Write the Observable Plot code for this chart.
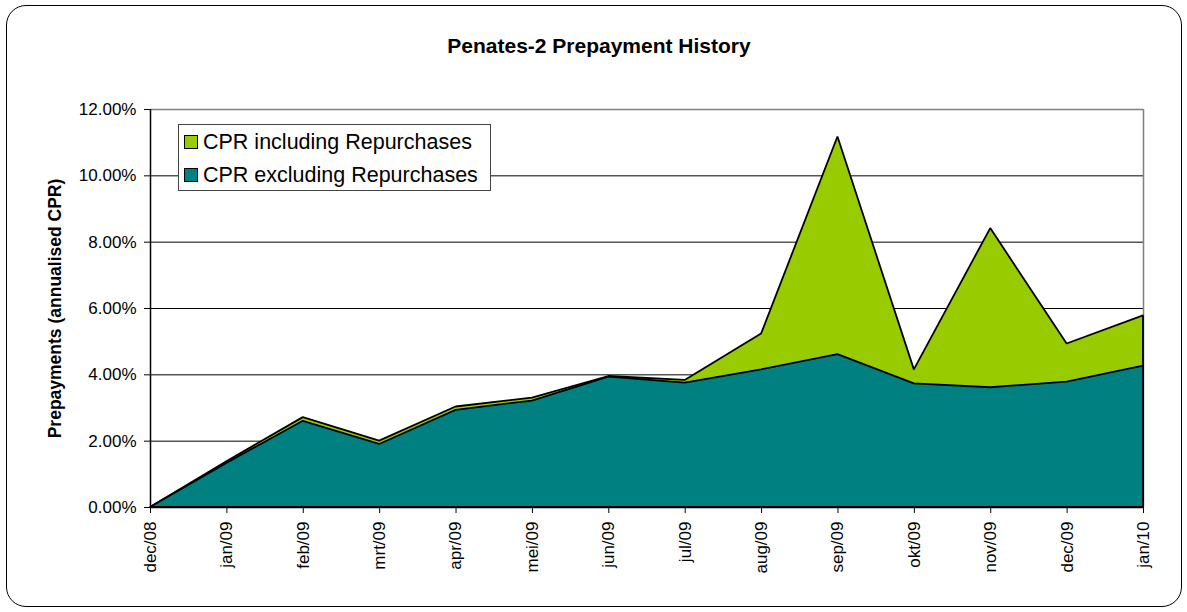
<!DOCTYPE html>
<html>
<head>
<meta charset="utf-8">
<script src="https://cdn.jsdelivr.net/npm/d3@7"></script>
<script src="https://cdn.jsdelivr.net/npm/@observablehq/plot@0.6"></script>
<style>
  html, body { margin: 0; padding: 0; background: #fff; }
  body { width: 1187px; height: 612px; overflow: hidden; font-family: "Liberation Sans", Arial, sans-serif; }
  #wrap { position: relative; width: 1187px; height: 612px; }
  #border { position: absolute; left: 6px; top: 5px; width: 1174px; height: 600px; border: 1.5px solid #000; border-radius: 20px; pointer-events: none; }
  #title { position: absolute; left: 0; width: 1198px; top: 34px; text-align: center; font-weight: bold; font-size: 21px; color: #000; }
  #chart { position: absolute; left: 0; top: 0; }
  #legend { position: absolute; left: 178px; top: 124px; width: 311px; height: 65px; border: 1px solid #444; background: #fff; }
  .row { position: absolute; left: 5px; height: 24px; display: flex; align-items: center; font-size: 21.5px; color: #000; white-space: nowrap; }
  .sw { width: 12px; height: 12px; border: 1.5px solid #000; margin-right: 5px; }
</style>
</head>
<body>
<div id="wrap">
  <div id="chart"></div>
  <div id="title">Penates-2 Prepayment History</div>
  <div id="legend"></div>
  <div id="border"></div>
</div>
<script>
const months = ["dec/08","jan/09","feb/09","mrt/09","apr/09","mei/09","jun/09","jul/09","aug/09","sep/09","okt/09","nov/09","dec/09","jan/10"];
const cprIncluding = [0.0000,0.0138,0.0271,0.0200,0.0303,0.0330,0.0395,0.0383,0.0523,0.1117,0.0415,0.0841,0.0493,0.0578];
const cprExcluding = [0.0000,0.0133,0.0260,0.0190,0.0293,0.0321,0.0393,0.0375,0.0415,0.0461,0.0373,0.0361,0.0378,0.0426];
const yTicks = [0,0.02,0.04,0.06,0.08,0.10,0.12];
const seriesNames = ["CPR including Repurchases","CPR excluding Repurchases"];
const seriesColors = ["#99CC00","#008080"];
const yLabel = "Prepayments (annualised CPR)";

const incl = months.map((m,i)=>({i, v: cprIncluding[i]}));
const excl = months.map((m,i)=>({i, v: cprExcluding[i]}));

const plot = Plot.plot({
  width: 1187,
  height: 612,
  marginLeft: 150,
  marginRight: 44,
  marginTop: 109,
  marginBottom: 105,
  style: {fontFamily: '"Liberation Sans", Arial, sans-serif', color: "#000", background: "transparent", overflow: "visible"},
  x: {type: "linear", domain: [0, months.length - 1]},
  y: {domain: [0, 0.12]},
  marks: [
    Plot.ruleY(yTicks.filter(d => d > 0 && d < 0.12), {stroke: "#000", strokeWidth: 1}),
    Plot.ruleY([0.12], {stroke: "#808080", strokeWidth: 1.5}),
    Plot.ruleX([months.length - 1], {stroke: "#808080", strokeWidth: 1.5}),
    Plot.areaY(incl, {x: "i", y: "v", fill: seriesColors[0], stroke: "#000", strokeWidth: 1.8, strokeLinejoin: "miter"}),
    Plot.areaY(excl, {x: "i", y: "v", fill: seriesColors[1], stroke: "#000", strokeWidth: 1.8, strokeLinejoin: "miter"}),
    Plot.ruleX([0], {stroke: "#000", strokeWidth: 1.5}),
    Plot.ruleY([0], {stroke: "#000", strokeWidth: 1.5}),
    Plot.axisY({ticks: yTicks, tickFormat: d3.format(".2%"), tickSize: 6, tickPadding: 8, fontSize: 17, label: null}),
    Plot.axisX({ticks: d3.range(months.length), tickFormat: i => months[i], tickRotate: -90, tickSize: 6, tickPadding: 8, fontSize: 17, label: null}),
    Plot.text([yLabel], {text: d => d, frameAnchor: "left", textAnchor: "middle", rotate: -90, dx: -95, fontWeight: "bold", fontSize: 17.5})
  ]
});
document.getElementById("chart").appendChild(plot);

const legend = document.getElementById("legend");
seriesNames.forEach((name, k) => {
  const row = document.createElement("div");
  row.className = "row";
  row.style.top = (k === 0 ? 5 : 38) + "px";
  const sw = document.createElement("div");
  sw.className = "sw";
  sw.style.background = seriesColors[k];
  const t = document.createElement("span");
  t.textContent = name;
  row.appendChild(sw);
  row.appendChild(t);
  legend.appendChild(row);
});
</script>
</body>
</html>
